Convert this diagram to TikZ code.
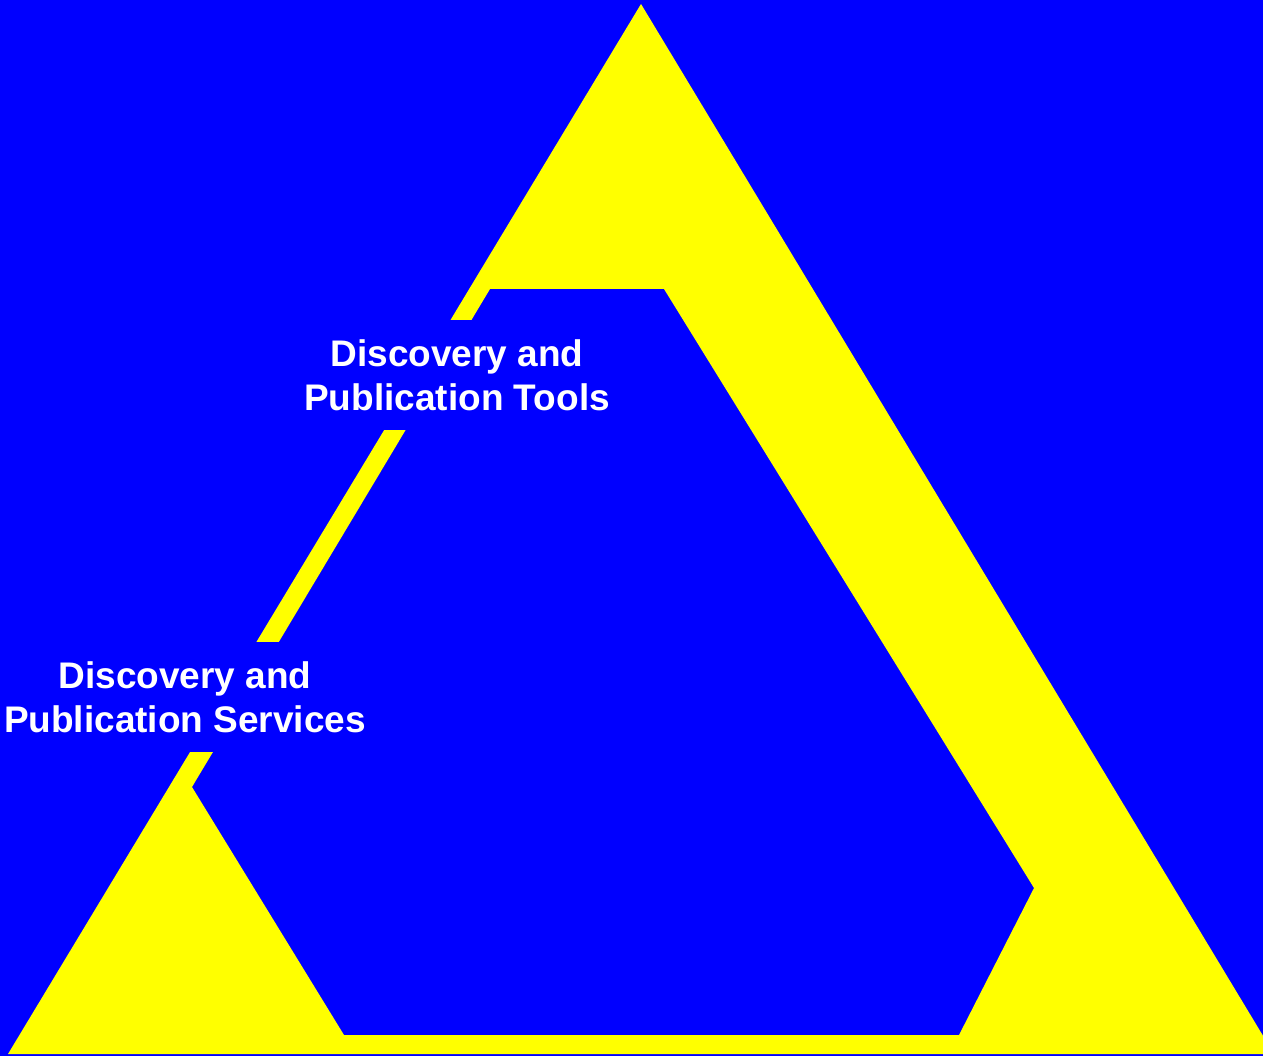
\documentclass[tikz,border=0pt]{standalone}
\usepackage{fontspec}
\setmainfont{Liberation Sans}
\usepackage{tikz}

\definecolor{bgblue}{RGB}{0,0,255}
\definecolor{triyellow}{RGB}{255,255,0}

\begin{document}
\begin{tikzpicture}[x=1pt, y=-1pt,
  lbl/.style={fill=bgblue, text=white, align=center, inner sep=0pt,
              minimum height=110pt, font=\fontsize{37}{44}\selectfont\bfseries}
]
  \clip (0,0) rectangle (1263,1056);
  \fill[bgblue] (0,0) rectangle (1263,1056);

  % outer triangle with the inner hexagon cut out
  \fill[triyellow, even odd rule]
    (641,4) -- (1274,1054) -- (8,1054) -- cycle
    (490,289) -- (664,289) -- (1034,888) -- (959,1035) -- (344,1035) -- (192,787) -- cycle;

  \node[lbl] (tools)    at (457,375) {Discovery and\\Publication Tools};
  \node[lbl] (services) at (185,697) {Discovery and\\Publication Services};
\end{tikzpicture}
\end{document}
